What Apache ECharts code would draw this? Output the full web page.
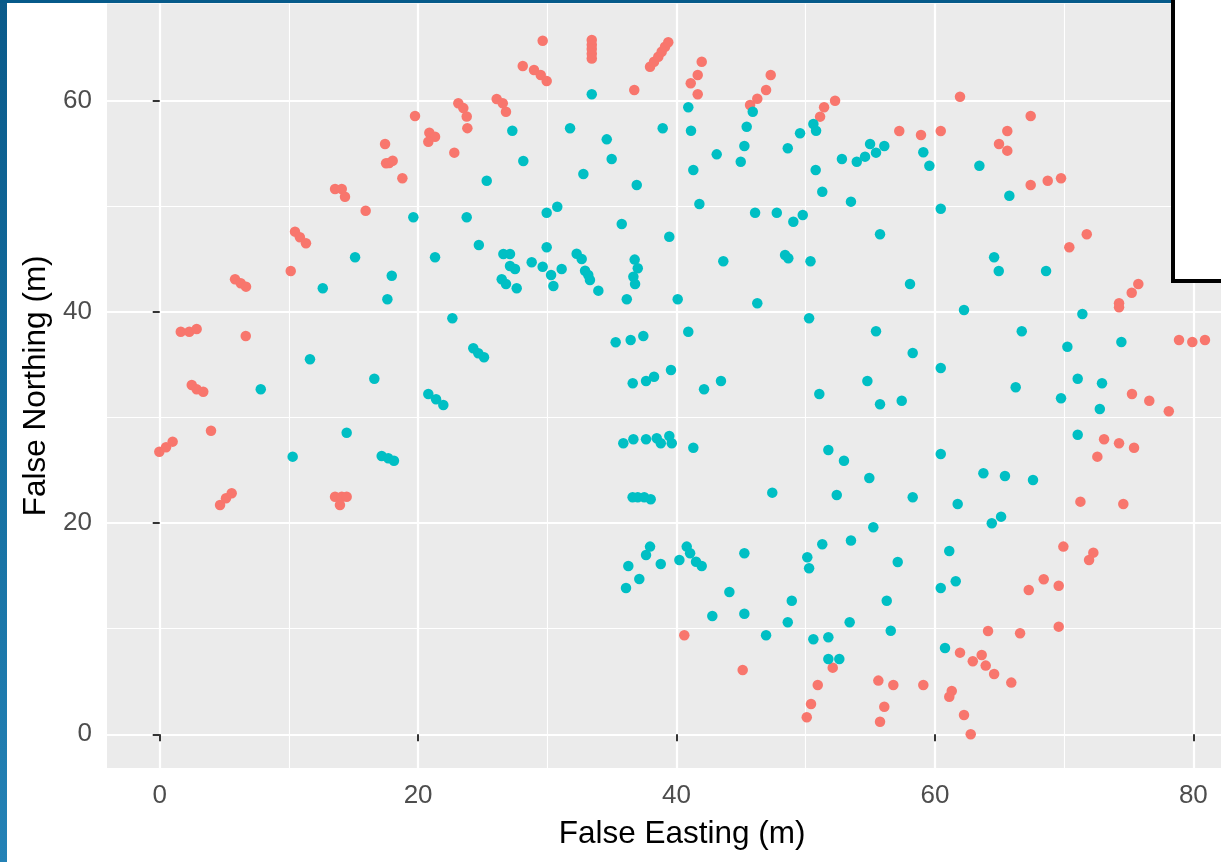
<!DOCTYPE html>
<html>
<head>
<meta charset="utf-8">
<script src="https://cdn.jsdelivr.net/npm/echarts@6/dist/echarts.min.js"></script>
<style>
  html, body { margin: 0; padding: 0; background: #ffffff; }
  #chart { width: 1221px; height: 862px; }
</style>
</head>
<body>
<div id="chart"></div>
<script>
// Stem positions (easting, northing) in metres, split into two groups.
const edgePoints = [
  [23.11,59.75],[23.5,59.3],[23.76,58.5],[23.81,57.4],
  [19.76,58.55],
  [20.87,56.97],[21.31,56.59],[20.79,56.12],
  [22.8,55.08],
  [17.44,55.9],
  [17.52,54.07],[17.76,54.1],[18.03,54.32],
  [18.78,52.65],
  [13.57,51.64],[14.09,51.64],[14.34,50.91],
  [15.94,49.58],
  [10.47,47.6],[10.85,47.06],[11.32,46.5],
  [10.14,43.87],
  [5.83,43.09],[6.27,42.71],[6.68,42.39],
  [1.63,38.12],[2.29,38.12],[2.86,38.38],
  [6.66,37.72],
  [2.48,33.08],[2.86,32.67],[3.37,32.44],
  [3.97,28.75],
  [-0.03,26.76],[0.49,27.18],[1.0,27.71],
  [4.67,21.71],[5.13,22.35],[5.57,22.82],
  [13.57,22.5],[14.09,22.5],[14.47,22.5],[13.95,21.71],
  [29.64,65.68],
  [28.1,63.29],
  [28.97,62.9],[29.49,62.43],[29.95,61.87],
  [33.44,65.75],[33.44,65.3],[33.44,64.9],[33.44,64.45],[33.44,64.0],
  [37.95,63.22],[38.26,63.69],[38.59,64.17],[38.85,64.64],[39.11,65.11],[39.36,65.53],
  [36.73,61.01],
  [26.08,60.16],[26.55,59.75],[26.8,58.96],
  [41.95,63.69],[41.64,62.43],[41.1,61.65],[41.64,60.61],
  [47.29,62.43],[46.93,61.01],[46.25,60.19],[45.69,59.59],
  [52.27,60.0],[51.42,59.38],[51.11,58.49],
  [61.94,60.38],[57.24,57.13],[58.92,56.75],[60.45,57.13],[67.41,58.55],[65.6,57.13],
  [64.96,55.9],[65.6,55.27],[67.41,52.02],[68.73,52.42],[69.76,52.65],[70.4,46.12],[71.75,47.35],
  [75.74,42.64],[75.23,41.82],[74.25,40.81],[74.25,40.43],
  [78.89,37.34],[79.92,37.15],[80.9,37.34],
  [75.25,32.22],[76.59,31.59],[78.1,30.59],
  [73.09,27.94],[74.25,27.56],[75.41,27.14],[72.57,26.29],
  [71.26,22.03],[74.58,21.81],
  [40.6,9.38],[45.12,6.09],[52.09,6.31],[50.93,4.67],[50.41,2.87],[50.08,1.61],
  [69.94,17.77],[72.26,17.2],[71.93,16.51],[68.42,14.68],[67.26,13.67],[69.58,14.07],
  [64.11,9.78],[66.59,9.56],[69.58,10.19],
  [61.94,7.73],[63.62,7.51],[62.93,6.91],[63.93,6.5],[64.58,5.71],[65.91,4.89],
  [55.62,5.08],[56.78,4.67],[59.1,4.67],[61.3,4.1],[61.11,3.56],
  [56.08,2.61],[55.75,1.19],[62.25,1.83],[62.77,0.0]
];

const corePoints = [
  [19.63,48.96],[23.76,48.96],[24.7,46.33],[15.12,45.17],[21.31,45.17],
  [17.96,43.43],[12.62,42.23],[17.62,41.19],[22.65,39.39],
  [24.27,36.55],[24.66,36.08],[25.1,35.7],
  [11.63,35.51],[16.61,33.67],[7.82,32.67],
  [20.79,32.22],[21.39,31.72],[21.95,31.18],
  [14.47,28.56],[10.29,26.29],
  [17.18,26.35],[17.69,26.14],[18.13,25.91],
  [33.44,60.61],[40.91,59.38],[45.9,58.96],[50.59,57.79],
  [27.29,57.16],[31.76,57.39],[38.93,57.39],[41.12,57.16],[45.43,57.54],
  [34.6,56.34],[49.56,56.91],[50.8,57.16],[45.25,55.71],[48.61,55.49],[52.8,54.48],
  [28.14,54.29],[34.98,54.48],[43.11,54.92],[44.97,54.22],[50.77,53.44],
  [32.79,53.06],[41.3,53.44],[25.31,52.42],[36.92,52.02],[51.28,51.38],[53.5,50.44],
  [41.77,50.22],[29.95,49.39],[30.77,49.96],[46.08,49.39],[47.76,49.39],[49.04,48.54],[49.77,49.18],
  [35.76,48.32],[39.44,47.12],[29.95,46.12],
  [26.6,45.48],[27.11,45.48],[28.79,44.7],[32.27,45.5],[32.66,45.0],[36.76,44.95],
  [43.62,44.8],[48.4,45.39],[48.65,45.08],[50.37,44.8],
  [27.11,44.35],[27.5,44.06],[29.64,44.28],[30.29,43.49],[31.11,44.06],[30.47,42.45],
  [26.47,43.09],[26.8,42.64],[27.63,42.23],
  [32.92,43.9],[33.17,43.49],[33.3,43.02],[33.95,42.01],
  [37.0,44.13],[36.66,43.33],[36.79,42.64],
  [36.15,41.19],[40.09,41.19],[46.25,40.81],[50.26,39.39],[40.91,38.12],
  [35.29,37.12],[36.45,37.34],[37.43,37.72],
  [39.57,34.5],[36.61,33.24],[37.64,33.46],[38.26,33.86],[42.13,32.67],[43.44,33.46],[51.05,32.22],
  [35.88,27.56],[36.66,27.94],[37.64,27.94],[38.47,28.03],[38.78,27.56],[39.44,28.25],[39.63,27.56],
  [41.3,27.14],[51.75,26.92],[52.96,25.91],[47.41,22.88],[52.4,22.66],
  [36.6,22.44],[37.0,22.44],[37.5,22.44],[38.0,22.25],
  [54.98,55.9],[55.44,55.08],[56.08,55.71],[53.95,54.22],[54.59,54.7],
  [59.1,55.11],[59.57,53.84],[63.44,53.84],[60.45,49.77],[65.76,51.0],[55.75,47.35],[64.58,45.17],
  [64.94,43.87],[68.6,43.87],[58.07,42.64],[62.25,40.18],[71.41,39.8],[55.44,38.16],
  [66.72,38.16],[70.25,36.7],[74.43,37.15],[58.28,36.11],[60.45,34.69],[54.77,33.46],
  [71.05,33.67],[72.93,33.24],[55.75,31.25],[57.43,31.59],[66.25,32.86],[69.76,31.82],
  [72.76,30.8],[71.05,28.37],[60.45,26.54],[54.92,24.27],[63.75,24.72],[65.42,24.46],
  [67.59,24.08],[58.28,22.44],[61.76,21.81],
  [37.95,17.77],[37.64,16.98],[36.27,15.94],[37.12,14.71],[36.09,13.85],[38.78,16.13],[40.22,16.51],
  [40.79,17.77],[41.05,17.14],[41.51,16.34],[41.95,15.94],
  [45.25,17.14],[44.09,13.48],[42.77,11.2],[45.25,11.42],[46.93,9.38],[48.92,12.65],[48.61,10.61],
  [50.12,16.76],[50.26,15.72],[51.28,17.99],[53.5,18.35],
  [50.59,9.0],[51.75,9.19],[51.75,7.13],[52.6,7.13],[53.4,10.6],
  [64.4,19.98],[65.12,20.61],[55.23,19.6],[61.11,17.36],[57.12,16.32],[60.45,13.85],
  [61.61,14.49],[56.27,12.65],[56.58,9.81],[60.78,8.17]
];

// Axis ticks and limits
const eastMajorTicks = [0, 20, 40, 60, 80];
const eastMinorTicks = [10, 30, 50, 70];
const northMajorTicks = [0, 20, 40, 60];
const northMinorTicks = [10, 30, 50];
const eastLimits = [-4.08, 84.95];
const northLimits = [-3.2, 69.2];

const FONT = "'Liberation Sans', Arial, Helvetica, sans-serif";
const PANEL = '#EBEBEB';

function majorAxis(limits, ticks, name, isX) {
  return {
    type: 'value',
    gridIndex: 0,
    min: limits[0],
    max: limits[1],
    position: isX ? 'bottom' : 'left',
    axisLine: { show: false },
    axisTick: {
      show: true, inside: false, length: 7,
      customValues: ticks,
      lineStyle: { color: '#333333', width: 2 }
    },
    axisLabel: {
      show: true, customValues: ticks,
      color: '#4D4D4D', fontSize: 26, fontFamily: FONT, margin: 15
    },
    splitLine: { show: true, lineStyle: { color: '#FFFFFF', width: 2.2 } },
    minorTick: { show: false },
    minorSplitLine: { show: false },
    name: name,
    nameLocation: 'middle',
    nameGap: isX ? 50 : 54,
    nameRotate: isX ? 0 : 90,
    nameTextStyle: { color: '#000000', fontSize: 31.5, fontFamily: FONT }
  };
}

function minorAxis(limits, ticks, isX) {
  return {
    type: 'value',
    gridIndex: 0,
    min: limits[0],
    max: limits[1],
    position: isX ? 'bottom' : 'left',
    axisLine: { show: false },
    axisTick: { show: false, customValues: ticks },
    axisLabel: { show: false },
    splitLine: { show: true, lineStyle: { color: '#FFFFFF', width: 1.1 } }
  };
}

const chart = echarts.init(document.getElementById('chart'), null, { renderer: 'canvas' });

chart.setOption({
  animation: false,
  backgroundColor: '#FFFFFF',
  grid: {
    left: 107,
    top: 3.55,
    width: 1150.3,
    height: 764.5,
    show: true,
    backgroundColor: PANEL,
    borderWidth: 0,
    containLabel: false,
    outerBoundsMode: 'none'
  },
  xAxis: [
    minorAxis(eastLimits, eastMinorTicks, true),
    majorAxis(eastLimits, eastMajorTicks, 'False Easting (m)', true)
  ],
  yAxis: [
    minorAxis(northLimits, northMinorTicks, false),
    majorAxis(northLimits, northMajorTicks, 'False Northing (m)', false)
  ],
  series: [
    {
      type: 'scatter',
      xAxisIndex: 1, yAxisIndex: 1,
      data: edgePoints,
      symbol: 'circle',
      symbolSize: 10.5,
      itemStyle: { color: '#F8766D', opacity: 1 },
      silent: true,
      z: 3
    },
    {
      type: 'scatter',
      xAxisIndex: 1, yAxisIndex: 1,
      data: corePoints,
      symbol: 'circle',
      symbolSize: 10.5,
      itemStyle: { color: '#00BFC4', opacity: 1 },
      silent: true,
      z: 4
    }
  ],
  graphic: [
    {
      type: 'rect', z: 100, silent: true,
      shape: { x: 0, y: 0, width: 7, height: 862 },
      style: {
        fill: {
          type: 'linear', x: 0, y: 0, x2: 0, y2: 1,
          colorStops: [
            { offset: 0, color: '#0A5A8A' },
            { offset: 0.5, color: '#146E9F' },
            { offset: 1, color: '#2482B6' }
          ]
        }
      }
    },
    {
      type: 'rect', z: 100, silent: true,
      shape: { x: 0, y: 0, width: 1171, height: 3 },
      style: { fill: '#065A8A' }
    },
    {
      type: 'rect', z: 101, silent: true,
      shape: { x: 1173, y: -10, width: 100, height: 291 },
      style: { fill: '#FFFFFF', stroke: '#000000', lineWidth: 4 }
    }
  ]
});
</script>
</body>
</html>
